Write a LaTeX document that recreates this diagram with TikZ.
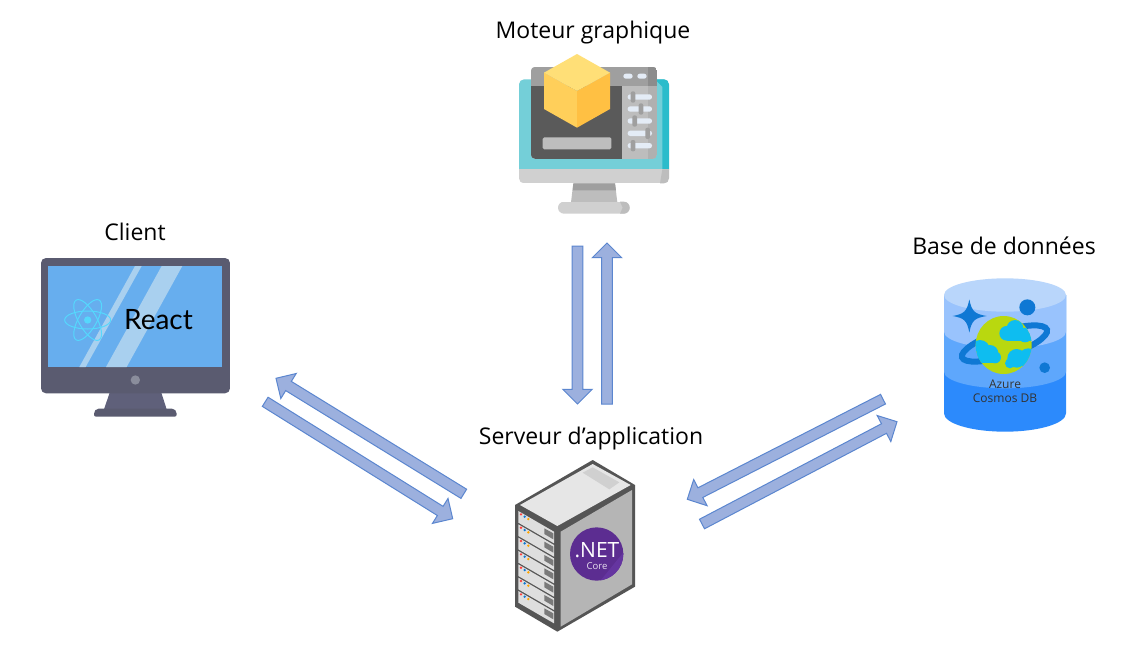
\documentclass[tikz,border=0pt]{standalone}
\usepackage{fontspec}
\setmainfont{Open Sans}
\newfontfamily\reactfont{Lato}
\usetikzlibrary{calc}
\definecolor{arrowfill}{HTML}{9CB0DE}
\definecolor{arrowline}{HTML}{5B86CF}
\definecolor{azdark}{HTML}{0F78D4}
\definecolor{azcloud}{HTML}{0EBDF0}
\definecolor{azplanet}{HTML}{B9D80F}
\definecolor{cyla}{HTML}{2C8AFC}
\definecolor{cylb}{HTML}{5EA7FC}
\definecolor{cylc}{HTML}{99C3FD}
\definecolor{cyld}{HTML}{B9D6FB}
\definecolor{bezel}{HTML}{5A5B70}
\definecolor{neckc}{HTML}{5F607A}
\definecolor{screenc}{HTML}{67AEEE}
\definecolor{stripec}{HTML}{A9D0EF}
\definecolor{atomc}{HTML}{55D8FD}
\definecolor{buttonc}{HTML}{8A8D9C}
\definecolor{srvframe}{HTML}{555555}
\definecolor{srvtop}{HTML}{E6E6E6}
\definecolor{srvside}{HTML}{B5B5B5}
\definecolor{srvbay}{HTML}{DEDEDE}
\definecolor{srvslot}{HTML}{7A7A7A}
\definecolor{netpurple}{HTML}{5C2D91}
\definecolor{netlight}{HTML}{6535A0}
\definecolor{tealc}{HTML}{74CFD8}
\definecolor{tealdark}{HTML}{2BBCCB}
\definecolor{greya}{HTML}{D0D0D0}
\definecolor{greyb}{HTML}{BDBDBD}
\definecolor{greyb2}{HTML}{B0B0B0}
\definecolor{greyc}{HTML}{9F9F9F}
\definecolor{greyd}{HTML}{8C8C8C}
\definecolor{screendark}{HTML}{5A5A5A}
\definecolor{cubetop}{HTML}{FFDF77}
\definecolor{cubeleft}{HTML}{FFCF5A}
\definecolor{cuberight}{HTML}{FFC043}
\definecolor{sliderc}{HTML}{E4ECF6}
\tikzset{
  lbl/.style={font=\fontsize{23}{27}\selectfont,text=black,inner sep=0pt},
  blockfill/.style={fill=arrowfill,draw=arrowline,line width=1pt,line join=miter},
  zoomed/.style={shift={#1},scale=1/3}
}
\newcommand{\blockarrow}[2]{%
  \coordinate (#1#2h) at ($(#2)!14.7pt!(#1)$);
  \path[blockfill]
    ($(#1)!5.4pt!90:(#2)$) -- ($(#1#2h)!5.4pt!-90:(#1)$) -- ($(#1#2h)!14.7pt!-90:(#1)$) -- (#2)
    -- ($(#1#2h)!14.7pt!90:(#1)$) -- ($(#1#2h)!5.4pt!90:(#1)$) -- ($(#1)!5.4pt!-90:(#2)$) -- cycle;
}
\newcommand{\slider}[2]{% y, knob x
  \fill[sliderc,rounded corners=2.5pt] (383,#1-8) rectangle (456,#1+8);
  \fill[greyc,rounded corners=2pt] (#2-7,#1-17) rectangle (#2+7,#1+17);
}
\newcommand{\bay}[1]{% vertical offset in zoomed pixels
  \begin{scope}[yshift=-#1*1pt]
    \fill[srvbay] (55,183) -- (162,245) -- (162,280) -- (55,218) -- cycle;
    \fill[srvslot] (133,235) -- (160,250) -- (160,268) -- (133,252) -- cycle;
    \fill[red!75!white] (63,193) circle (4);
    \fill[azdark] (74,200) circle (4);
    \fill[orange!70!yellow] (85,207) circle (4);
  \end{scope}
}
\begin{document}
\begin{tikzpicture}[x=1pt,y=-1pt]
\useasboundingbox (0,0) rectangle (1130,654);
\fill[white] (0,0) rectangle (1130,654);

% labels
\node[lbl] (moteur) at (593,33) {Moteur graphique};
\node[lbl] (client) at (135,232) {Client};
\node[lbl] (base) at (1004,246) {Base de données};
\node[lbl] (serveur) at (591,439) {Serveur d’application};

% graphics engine icon
\begin{scope}[zoomed={(500,40)}]
  \begin{scope}
    \clip[rounded corners=5pt] (57,118) rectangle (507,430);
    \fill[tealc] (57,118) rectangle (507,388);
    \fill[tealdark] (465,118) -- (507,118) -- (507,388) -- (487,388) -- (487,140) -- cycle;
    \fill[greya] (57,388) rectangle (507,430);
    \fill[greyb] (487,388) -- (507,388) -- (507,430) -- (480,430) -- cycle;
  \end{scope}
  \fill[greyb] (220,430) -- (345,430) -- (352,487) -- (213,487) -- cycle;
  \fill[greyc] (220,430) -- (345,430) -- (348,451) -- (218,451) -- cycle;
  \begin{scope}
    \clip[rounded corners=6pt] (174,485) rectangle (389,521);
    \fill[greya] (174,485) rectangle (389,521);
    \fill[greyb] (360,485) -- (389,485) -- (389,521) -- (360,521) -- (368,503) -- cycle;
  \end{scope}
  \begin{scope}
    \clip[rounded corners=5pt] (92,80) rectangle (472,357);
    \fill[greyb] (92,80) rectangle (472,357);
    \fill[greyc] (92,80) rectangle (472,137);
    \fill[greyd] (445,80) rectangle (472,137);
    \fill[greyb2] (445,137) rectangle (472,357);
    \fill[screendark] (92,137) rectangle (367,357);
  \end{scope}
  \fill[greyb,rounded corners=1.5pt] (128,292) rectangle (334,328);
  \fill[sliderc,rounded corners=2.5pt] (370,101) rectangle (398,116);
  \fill[sliderc,rounded corners=2.5pt] (412,101) rectangle (440,116);
  \slider{171}{399}
  \slider{207}{423}
  \slider{243}{404}
  \slider{280}{443}
  \slider{317}{399}
  \fill[cubeleft] (132,98) -- (231,153) -- (231,263) -- (132,207) -- cycle;
  \fill[cuberight] (330,98) -- (231,153) -- (231,263) -- (330,207) -- cycle;
  \fill[cubetop] (231,42) -- (330,98) -- (231,153) -- (132,98) -- cycle;
\end{scope}

% client monitor
\begin{scope}[zoomed={(30,250)}]
  \fill[neckc] (240,425) -- (393,425) -- (410,478) -- (222,478) -- cycle;
  \fill[bezel,rounded corners=2pt] (192,500) -- (192,485) -- (200,476) -- (432,476) -- (440,485) -- (440,500) -- cycle;
  \fill[bezel,rounded corners=5pt] (33,24) rectangle (600,430);
  \fill[screenc] (55,48) rectangle (577,351);
  \fill[stripec] (315,48) -- (335,48) -- (167,351) -- (148,351) -- cycle;
  \fill[stripec] (395,48) -- (457,48) -- (290,351) -- (228,351) -- cycle;
  \fill[buttonc] (316,390) circle (14);
  \draw[atomc,line width=1pt] (173,210) ellipse [x radius=69,y radius=27];
  \draw[atomc,line width=1pt,rotate around={60:(173,210)}] (173,210) ellipse [x radius=69,y radius=27];
  \draw[atomc,line width=1pt,rotate around={-60:(173,210)}] (173,210) ellipse [x radius=69,y radius=27];
  \fill[atomc] (173,210) circle (11);
\end{scope}
\node[font=\reactfont\fontsize{28}{32}\selectfont,text=black,inner sep=0pt] (react) at (158.5,320) {React};

% server
\begin{scope}[zoomed={(500,450)}]
  \fill[srvframe] (278,30) -- (405,105) -- (405,410) -- (172,545) -- (45,470) -- (45,165) -- cycle;
  \fill[srvtop] (278,42) -- (392,105) -- (172,228) -- (60,165) -- cycle;
  \fill[greya] (248,68) -- (278,52) -- (358,97) -- (328,118) -- cycle;
  \fill[srvside] (182,245) -- (396,120) -- (396,403) -- (182,530) -- cycle;
  \bay{0}\bay{40}\bay{80}\bay{120}\bay{160}\bay{200}\bay{240}
  \fill[netpurple] (290,312) circle (80);
  \begin{scope}
    \clip (290,312) circle (80);
    \fill[netlight] (295,400) -- (380,295) -- (400,400) -- cycle;
  \end{scope}
\end{scope}
\node[text=white,font=\fontsize{21}{24}\selectfont,inner sep=0pt] (net) at (597,550) {.NET};
\node[text=white!85!netpurple,font=\fontsize{9.5}{11}\selectfont,inner sep=0pt] (core) at (597,566) {Core};

% database
\begin{scope}[zoomed={(935,270)}]
  \fill[cyla] (27,75) -- (27,430) arc[start angle=180,end angle=0,x radius=183,y radius=55] -- (393,75) -- cycle;
  \fill[cylb] (27,75) -- (27,305) arc[start angle=180,end angle=0,x radius=183,y radius=50] -- (393,75) -- cycle;
  \fill[cylc] (27,75) -- (27,185) arc[start angle=180,end angle=0,x radius=183,y radius=50] -- (393,75) -- cycle;
  \fill[cyld] (210,75) ellipse [x radius=183,y radius=50];
  \fill[azdark] (103,88) .. controls (110,125) and (120,132) .. (155,138)
     .. controls (120,144) and (110,150) .. (103,188)
     .. controls (96,150) and (86,144) .. (53,138)
     .. controls (86,132) and (96,125) .. (103,88) -- cycle;
  \fill[azdark] (277,112) circle (24);
  \fill[azdark] (329,293) circle (16);
  \draw[azdark,line width=6pt,rotate around={18:(208.5,220.5)}] (208.5,220.5) ellipse [x radius=134,y radius=37];
  \fill[azplanet] (206,225) ellipse [x radius=84,y radius=87];
  \begin{scope}
    \clip (206,225) ellipse [x radius=84,y radius=87];
    \fill[azcloud] (215,190) circle (22);
    \fill[azcloud] (240,175) circle (25);
    \fill[azcloud] (270,195) circle (22);
    \fill[azcloud] (215,190) rectangle (300,212);
    \fill[azcloud] (135,240) circle (30);
    \fill[azcloud] (165,250) circle (25);
    \fill[azcloud] (180,262) circle (18);
    \fill[azcloud] (110,250) rectangle (180,280);
    \fill[azcloud] (245,265) circle (28);
    \fill[azcloud] (225,280) circle (15);
    \fill[azcloud] (280,265) circle (30);
  \end{scope}
\end{scope}
\node[text=black!80,align=center,font=\fontsize{12}{13.5}\selectfont,inner sep=0pt] (cosmos) at (1005,391) {Azure\\Cosmos DB};

% arrows
\coordinate (d1) at (577.5,246);
\coordinate (d2) at (577.5,404);
\coordinate (u1) at (607,404);
\coordinate (u2) at (607,243);
\coordinate (la) at (463.8,493.8);
\coordinate (lb) at (276,378.3);
\coordinate (lc) at (265.2,401.8);
\coordinate (ld) at (452.7,518.7);
\coordinate (ra) at (883,399.2);
\coordinate (rb) at (687.3,499.3);
\coordinate (rc) at (702,524);
\coordinate (rd) at (897,421.7);
\blockarrow{d1}{d2}
\blockarrow{u1}{u2}
\blockarrow{la}{lb}
\blockarrow{lc}{ld}
\blockarrow{ra}{rb}
\blockarrow{rc}{rd}
\end{tikzpicture}
\end{document}
